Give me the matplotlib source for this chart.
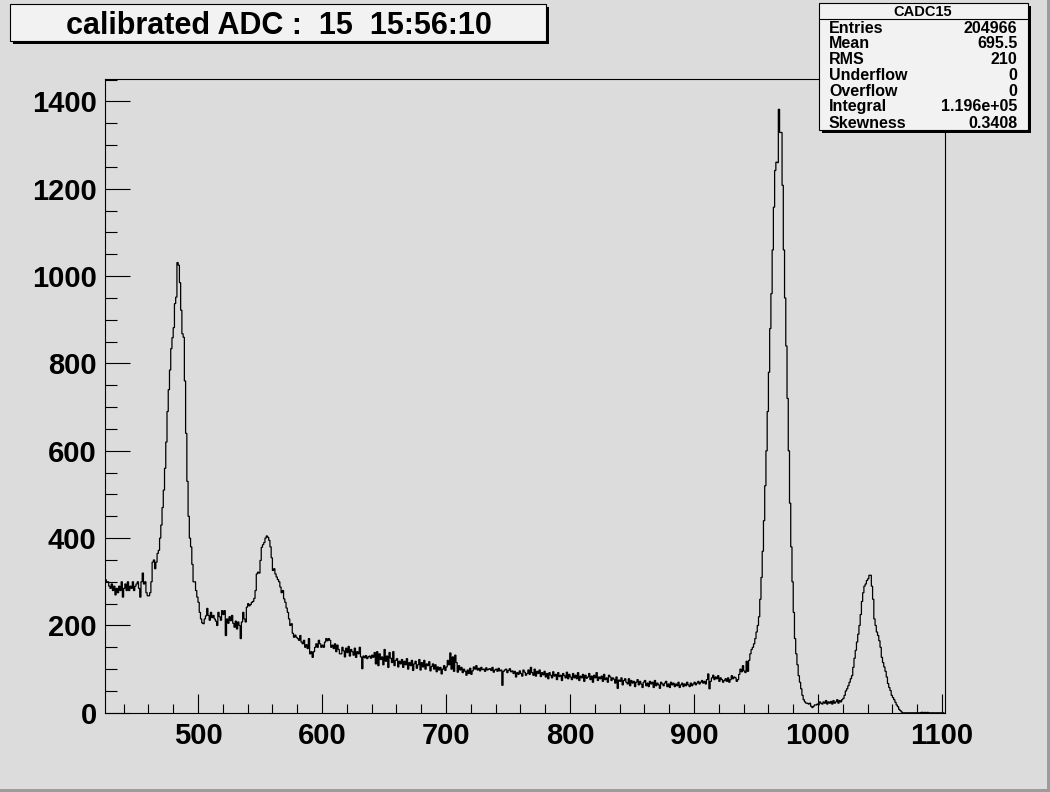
import numpy as np
import matplotlib
matplotlib.use("Agg")
import matplotlib.pyplot as plt
from matplotlib.patches import Rectangle
from matplotlib.lines import Line2D
from matplotlib.ticker import MultipleLocator

plt.rcParams['font.family'] = ['Liberation Sans', 'DejaVu Sans']

# histogram CADC15, 1 ADC unit per bin, first bin starts at 425
first_bin = 425
left_flat = [305, 300, 300, 290, 285, 295, 280, 290, 270, 285,
             275, 290, 280, 300, 265, 285, 295, 280, 300, 280,
             290, 285, 300, 280, 290, 295, 300, 285, 265, 300,
             320, 295, 300, 275, 268, 268, 275, 300]
peak_485 = [345, 350, 330, 345, 365, 372, 400, 430, 470, 510,
            560, 620, 690, 740, 785, 834, 859, 882, 937, 952,
            1031, 1025, 985, 922, 868, 860, 760, 640, 530, 450,
            400, 380, 340, 300, 300, 280, 265, 253, 230, 215]
peak_555 = [206, 204, 215, 222, 239, 223, 212, 230, 218, 223,
            215, 210, 200, 230, 220, 212, 234, 225, 234, 177,
            215, 205, 220, 211, 223, 205, 196, 210, 192, 208,
            200, 170, 208, 230, 215, 208, 242, 250, 245, 248,
            253, 255, 262, 280, 318, 322, 320, 349, 379, 385,
            390, 400, 405, 402, 395, 380, 355, 326, 330, 318,
            311, 305, 300, 288, 275, 280, 261, 253, 240, 230,
            215, 200, 204, 182, 173, 178, 173, 170, 166, 177,
            162, 158, 166, 150, 156, 147, 170, 135, 140, 127,
            140, 150, 158, 150, 166, 158, 150, 155, 150, 162,
            170, 165, 170, 166, 150, 155, 147, 158, 140, 155,
            145, 135]
continuum = [135, 150, 142, 128, 148, 138, 152, 130, 145, 140,
             132, 148, 127, 140, 135, 150, 128, 101, 130, 126,
             131, 124, 128, 130, 125, 132, 127, 138, 112, 140,
             108, 135, 122, 128, 110, 145, 118, 130, 104, 138,
             125, 115, 140, 108, 120, 124, 105, 118, 112, 122,
             104, 118, 110, 124, 100, 115, 108, 120, 97, 112,
             118, 102, 110, 122, 98, 115, 105, 120, 100, 112,
             108, 117, 96, 106, 112, 100, 110, 94, 105, 98,
             104, 89, 100, 108, 97, 105, 120, 110, 137, 100,
             128, 95, 132, 115, 93, 108, 98, 104, 92, 100,
             95, 86, 98, 90, 102, 88, 96, 105, 100, 108,
             98, 102, 96, 104, 99, 100, 95, 103, 98, 100,
             101, 97, 104, 93, 98, 100, 95, 102, 96, 98,
             63, 95, 98, 100, 92, 97, 101, 94, 96, 90,
             95, 82, 92, 88, 96, 90, 84, 98, 93, 86,
             90, 98, 88, 104, 92, 86, 100, 84, 95, 90,
             98, 83, 92, 87, 95, 82, 90, 78, 92, 86,
             80, 94, 84, 88, 76, 92, 83, 86, 74, 90,
             85, 80, 93, 78, 88, 82, 76, 90, 80, 86,
             78, 92, 74, 84, 80, 88, 72, 86, 79, 82,
             90, 76, 84, 70, 86, 80, 92, 74, 82, 78,
             84, 72, 88, 76, 80, 70, 86, 82, 74, 80,
             77, 68, 82, 56, 75, 72, 80, 64, 74, 78,
             70, 66, 78, 62, 74, 68, 72, 60, 70, 76,
             64, 72, 66, 58, 70, 74, 62, 68, 60, 72,
             66, 70, 58, 74, 62, 68, 64, 56, 70, 66,
             62, 68, 72, 60, 66, 58, 70, 64, 68, 60,
             66, 62, 70, 58, 64, 68, 60, 66, 62, 70,
             64, 60, 68, 62, 66, 70, 64, 68, 72, 66,
             70, 74, 68, 72, 66, 76, 89, 55, 72, 80,
             86, 76, 82, 78, 85, 72, 80, 76, 70, 74,
             78, 72, 80, 70, 76, 85, 78, 82, 80, 72,
             76, 88, 100, 94, 108, 96, 92, 118, 95]
peak_968 = [120, 135, 145, 150, 158, 170, 185, 200, 220, 260,
            310, 370, 440, 520, 600, 690, 780, 880, 960, 1060,
            1158, 1242, 1261, 1260, 1382, 1329, 1329, 1208, 1060, 950,
            840, 720, 600, 480, 380, 300, 230, 170, 135, 110,
            85, 70, 55, 40, 30]
valley = [25, 22, 22, 20, 22, 15, 12, 15, 18, 18,
          20, 18, 25, 22, 20, 25, 22, 28, 20, 25,
          22, 26, 20, 28, 22, 25, 30, 22]
peak_1042 = [28, 25, 30, 33, 40, 50, 55, 62, 70, 78,
             85, 104, 125, 143, 162, 180, 200, 225, 255, 275,
             290, 295, 303, 307, 315, 315, 290, 260, 215, 200,
             185, 177, 165, 150, 127, 115, 105, 95, 82, 67,
             58, 51, 40, 35, 30, 24, 18, 14, 8, 5,
             2, 0, 0, 0, 0, 0, 0, 0, 0, 0,
             0, 0, 0, 0, 0, 0, 1, 1, 0, 1,
             0, 1, 0, 0, 0, 0, 0, 0, 0, 0,
             0, 0, 0, 0, 0]

counts = np.array(left_flat + peak_485 + peak_555 + continuum + peak_968 + valley + peak_1042)
edges = np.arange(first_bin, first_bin + len(counts) + 1)

title_text = "calibrated ADC :  15  15:56:10"
stat_names = ["Entries", "Mean", "RMS", "Underflow", "Overflow", "Integral", "Skewness"]
stat_values = ["204966", "695.5", "210", "0", "0", "1.196e+05", "0.3408"]

W, H = 1050, 792
bg = '#dcdcdc'

def fx(px):
    return px / W

def fy(py):
    return 1 - py / H

fig = plt.figure(figsize=(W / 100, H / 100), dpi=100, facecolor=bg)
ax = fig.add_axes([0.1, 0.1, 0.8, 0.8])
ax.set_facecolor(bg)

ax.stairs(counts, edges, baseline=None, color='black', lw=0.9)

ax.set_xlim(425, 1102.4)
ax.set_ylim(0, 1451)
ax.xaxis.set_major_locator(MultipleLocator(100))
ax.xaxis.set_minor_locator(MultipleLocator(20))
ax.yaxis.set_major_locator(MultipleLocator(200))
ax.yaxis.set_minor_locator(MultipleLocator(50))
ax.tick_params(axis='x', which='major', direction='in', length=13.5, width=0.8, pad=6.5,
               labelsize=21)
ax.tick_params(axis='x', which='minor', direction='in', length=6.5, width=0.8)
ax.tick_params(axis='y', which='major', direction='in', length=18, width=0.8, pad=6,
               labelsize=21)
ax.tick_params(axis='y', which='minor', direction='in', length=8.5, width=0.8)
for lab in ax.get_xticklabels() + ax.get_yticklabels():
    lab.set_fontweight('bold')
for sp in ax.spines.values():
    sp.set_linewidth(0.8)

# title box with shadow
fig.add_artist(Rectangle((fx(13), fy(44)), fx(536), (44 - 7) / H, transform=fig.transFigure,
                         facecolor='black', edgecolor='black', lw=0, zorder=5))
fig.add_artist(Rectangle((fx(10), fy(41)), fx(536), (41 - 4) / H, transform=fig.transFigure,
                         facecolor='#f2f2f2', edgecolor='black', lw=0.8, zorder=6))
fig.text(fx(279), fy(25.5), title_text, ha='center', va='center', fontsize=22,
         fontweight='bold', zorder=7)

# stats box with shadow
fig.add_artist(Rectangle((fx(822), fy(133)), fx(209), (133 - 6) / H, transform=fig.transFigure,
                         facecolor='black', edgecolor='black', lw=0, zorder=5))
fig.add_artist(Rectangle((fx(819), fy(130)), fx(209), (130 - 3) / H, transform=fig.transFigure,
                         facecolor='#f2f2f2', edgecolor='black', lw=0.8, zorder=6))
fig.add_artist(Line2D([fx(819), fx(1028)], [fy(19.3), fy(19.3)], transform=fig.transFigure,
                      color='black', lw=0.8, zorder=7))
fig.text(fx(923), fy(11.5), "CADC15", ha='center', va='center', fontsize=10.5,
         fontweight='bold', zorder=7)
row_y = [28.3, 43.8, 60, 76, 91, 106.7, 123.3]
for name, val, yy in zip(stat_names, stat_values, row_y):
    fig.text(fx(829), fy(yy), name, ha='left', va='center', fontsize=11.5,
             fontweight='bold', zorder=7)
    fig.text(fx(1017.5), fy(yy), val, ha='right', va='center', fontsize=11.5,
             fontweight='bold', zorder=7)

# canvas bevel
fig.add_artist(Rectangle((0, 0), 1, 3 / H, transform=fig.transFigure,
                         facecolor='#9c9c9c', lw=0, zorder=8))
fig.add_artist(Rectangle((fx(1047), 0), 3 / W, 1, transform=fig.transFigure,
                         facecolor='#9c9c9c', lw=0, zorder=8))

fig.savefig('out.png', dpi=100, facecolor=bg)
